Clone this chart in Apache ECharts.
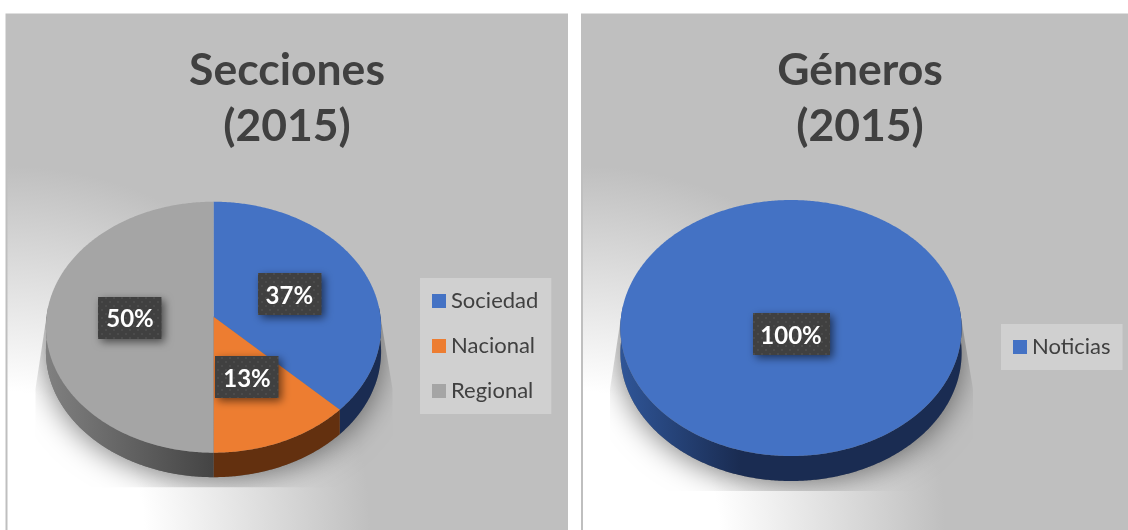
<!DOCTYPE html>
<html><head><meta charset="utf-8">
<style>html,body{margin:0;padding:0;background:#fff}#c{width:1128px;height:530px}</style>
<script src="https://cdn.jsdelivr.net/npm/echarts@6/dist/echarts.min.js"></script>
</head><body><div id="c"></div>
<script>
const seccionesCategories = ['Sociedad', 'Nacional', 'Regional'];
const seccionesValues = [37.4, 12.6, 50];
const seccionesColors = ['#4472c4', '#ed7d31', '#a5a5a5'];
const seccionesSideColors = [['#1a2c52','#1a2c52'], ['#63300f','#63300f'], ['#808080','#444444']];
const generosCategories = ['Noticias'];
const generosValues = [100];
const generosColors = ['#4472c4'];
const generosSideColors = [['#2f5597','#1a2c52']];
const titles = ['Secciones\n(2015)', 'Géneros\n(2015)'];

const FONT = 'Lato, "Open Sans", sans-serif';
const P = 0.0837;
const chart = echarts.init(document.getElementById('c'), null, {renderer: 'canvas'});

const dotCanvas = document.createElement('canvas');
dotCanvas.width = 8; dotCanvas.height = 8;
const dc = dotCanvas.getContext('2d');
dc.fillStyle = '#404040'; dc.fillRect(0, 0, 8, 8);
dc.fillStyle = '#4b4b4b'; dc.fillRect(1, 1, 2, 2); dc.fillRect(5, 5, 2, 2);

function project(geo, theta, r) {
  const u = Math.sin(theta) * r, v = -Math.cos(theta) * r, d = 1 - P * v;
  return [geo.cx + geo.a * u / d, geo.cy + geo.b * v / d];
}
function arc(geo, t1, t2) {
  const n = Math.max(2, Math.ceil((t2 - t1) / 0.01)), pts = [];
  for (let i = 0; i <= n; i++) pts.push(project(geo, t1 + (t2 - t1) * i / n, 1));
  return pts;
}
function sliceSeries(names, values, colors, sides, geo) {
  const total = values.reduce((s, v) => s + v, 0);
  let acc = 0;
  return names.map((name, i) => {
    const t1 = acc / total * 2 * Math.PI;
    acc += values[i];
    const t2 = acc / total * 2 * Math.PI;
    const full = values[i] === total;
    return {
      type: 'custom', name, coordinateSystem: 'none', silent: true, animation: false,
      itemStyle: {color: colors[i]}, z: 3 + i,
      data: [values[i]],
      renderItem() {
        const children = [];
        if (i === 0) {
          const outline = arc(geo, 0, Math.PI * 2);
          const lower = arc(geo, Math.PI / 2 - 0.1, Math.PI * 1.5 + 0.1).map(p => [p[0], p[1] + geo.depth]);
          const {cx: x, cy: y, a} = geo;
          const bottom = y + geo.b / (1 - P) + geo.depth + 10;
          children.push({
            type: 'polygon', shape: {points: outline.concat(lower)},
            style: {fill: '#777', shadowBlur: 30, shadowColor: 'rgba(0,0,0,0.5)', shadowOffsetY: 3},
            clipPath: {type: 'polygon', shape: {points: [
              [x - a, y], [x - a - 11, y + 72], [x - a - 11, bottom],
              [x + a + 12, bottom], [x + a + 12, y + 72], [x + a, y]]}}
          });
        }
        const sa = Math.max(t1, Math.PI / 2 - 0.09), sb = Math.min(t2, Math.PI * 1.5 + 0.09);
        if (sb > sa) {
          const top = arc(geo, sa, sb);
          const bot = top.map(p => [p[0], p[1] + geo.depth]).reverse();
          children.push({
            type: 'polygon', shape: {points: top.concat(bot)},
            style: {fill: new echarts.graphic.LinearGradient(geo.cx - geo.a, 0, geo.cx + geo.a * geo.sideEnd, 0,
              [{offset: 0, color: sides[i][0]}, {offset: 1, color: sides[i][1]}], true)}
          });
        }
        const facePts = full ? arc(geo, t1, t2) : [[geo.cx, geo.cy]].concat(arc(geo, t1, t2));
        children.push({type: 'polygon', shape: {points: facePts}, style: {fill: colors[i]}});
        const lp = project(geo, (t1 + t2) / 2, full ? 0.125 : 0.5);
        const w = full ? 77 : 63.5, h = 42;
        children.push({
          type: 'rect', z2: 50,
          shape: {x: Math.round(lp[0] - w / 2), y: Math.round(lp[1] - h / 2) + 1, width: w, height: h},
          style: {fill: {image: dotCanvas, repeat: 'repeat'}, shadowBlur: 8, shadowColor: 'rgba(0,0,0,0.55)', shadowOffsetX: 3, shadowOffsetY: 3}
        });
        children.push({
          type: 'text', z2: 51, x: lp[0], y: lp[1] + 3,
          style: {text: Math.round(values[i]) + '%', fill: '#fff', font: 'bold 24px ' + FONT, align: 'center', verticalAlign: 'middle'}
        });
        return {type: 'group', children};
      }
    };
  });
}
function panelGraphic(x, w, cx) {
  return {
    type: 'rect', z: -10,
    shape: {x, y: 14.5, width: w, height: 530},
    style: {
      fill: new echarts.graphic.RadialGradient(cx, 530, 364,
        [{offset: 0, color: '#ffffff'}, {offset: 0.38, color: '#ffffff'}, {offset: 1, color: '#bfbfbf'}], true),
      stroke: '#bfbfbf', lineWidth: 2
    }
  };
}
const geoL = {cx: 213.5, cy: 316.7, a: 167, b: 124.6, depth: 24.5, sideEnd: 0};
const geoR = {cx: 791, cy: 317.3, a: 170, b: 127.1, depth: 25, sideEnd: -0.3};
const legendCommon = {
  orient: 'vertical', backgroundColor: '#d0d0d0', borderRadius: 0, itemWidth: 14, itemHeight: 14,
  icon: 'rect', selectedMode: false, textStyle: {color: '#404040', fontFamily: FONT, fontSize: 22, lineHeight: 22}
};
const titleStyle = {fontFamily: FONT, fontWeight: 'bold', fontSize: 44.5, lineHeight: 56, color: '#404040'};
chart.setOption({
  animation: false,
  graphic: [panelGraphic(6.5, 560.5, 6), panelGraphic(582, 560, 581)],
  title: [
    {text: titles[0], left: 282, top: 38, textAlign: 'center', textStyle: titleStyle},
    {text: titles[1], left: 855, top: 38, textAlign: 'center', textStyle: titleStyle}
  ],
  legend: [
    Object.assign({}, legendCommon, {data: seccionesCategories, left: 420, top: 278, itemGap: 23, padding: [12, 13, 12, 12]}),
    Object.assign({}, legendCommon, {data: generosCategories, left: 1001, top: 324, padding: [12, 12, 12, 12]})
  ],
  series: sliceSeries(seccionesCategories, seccionesValues, seccionesColors, seccionesSideColors, geoL)
    .concat(sliceSeries(generosCategories, generosValues, generosColors, generosSideColors, geoR))
});
</script></body></html>
